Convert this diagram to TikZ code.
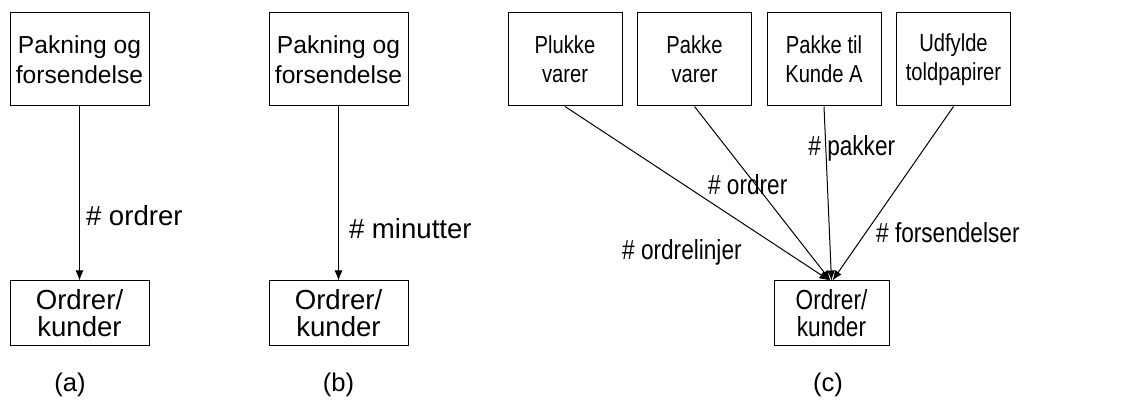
\documentclass[tikz,border=0pt]{standalone}
\usepackage{fontspec}
\setmainfont{Liberation Sans}
\newfontfamily\narrowfont[FakeStretch=0.82]{Liberation Sans}
\usetikzlibrary{arrows.meta}
\tikzset{>={Latex[length=5pt,width=4pt]}}

\begin{document}
\begin{tikzpicture}[x=0.5pt, y=-0.5pt, line width=0.5pt]
	\tikzstyle{activity} = [draw=black, align=center, minimum width=69.5pt, minimum height=46.5pt, inner sep=0pt, font=\fontsize{12.3}{15}\selectfont]
	\tikzstyle{activity_c} = [activity, minimum width=57pt, font=\narrowfont\fontsize{12.3}{14.5}\selectfont]
	\tikzstyle{object} = [draw=black, align=center, minimum width=69.5pt, minimum height=32.5pt, inner sep=0pt, font=\fontsize{13.8}{13.5}\selectfont]
	\tikzstyle{object_c} = [object, minimum width=57.5pt, font=\narrowfont\fontsize{13.8}{13.5}\selectfont]
	\tikzstyle{driver} = [font=\fontsize{13.8}{16}\selectfont, inner sep=3pt]
	\tikzstyle{driver_c} = [driver, font=\narrowfont\fontsize{13.8}{16}\selectfont]
	\tikzstyle{caption} = [font=\fontsize{12.8}{15}\selectfont]

	\useasboundingbox (0,0) rectangle (1134,405);

%----------(a)-----------------------------------------------
	\node[activity] (pa) at (79.5,59.5) {Pakning og\\forsendelse};
	\node[object] (oa) at (79.5,313.5) {Ordrer/\\kunder};

	\draw[->] (pa) -- node[driver, pos=0.63, right] {\# ordrer} (oa);

	\node[caption] (ca) at (70,385) {(a)};

%----------(b)-----------------------------------------------
	\node[activity] (pb) at (338.5,59.5) {Pakning og\\forsendelse};
	\node[object] (ob) at (338.5,313.5) {Ordrer/\\kunder};

	\draw[->] (pb) -- node[driver, pos=0.70, right=2pt] {\# minutter} (ob);

	\node[caption] (cb) at (338.5,385) {(b)};

%----------(c)-----------------------------------------------
	\node[activity_c] (c1) at (565,59.5) {Plukke\\varer};
	\node[activity_c] (c2) at (694.5,59.5) {Pakke\\varer};
	\node[activity_c] (c3) at (824,59.5) {Pakke til\\Kunde A};
	\node[activity_c] (c4) at (953.5,59.5) {Udfylde\\toldpapirer};
	\node[object_c] (oc) at (831.5,313.5) {Ordrer/\\kunder};

	\draw[->] (c1.south) -- node[driver_c, pos=0.84, left=19.5pt] {\# ordrelinjer} ([xshift=-1pt]oc.north);
	\draw[->] (c2.south) -- node[driver_c, pos=0.45, xshift=-4pt] {\# ordrer} ([xshift=-0.5pt]oc.north);
	\draw[->] (c3.south) -- node[driver_c, pos=0.24, xshift=13pt] {\# pakker} (oc.north);
	\draw[->] (c4.south) -- node[driver_c, pos=0.726, right=2pt] {\# forsendelser} ([xshift=0.5pt]oc.north);

	\node[caption] (cc) at (828,385) {(c)};
\end{tikzpicture}
\end{document}
